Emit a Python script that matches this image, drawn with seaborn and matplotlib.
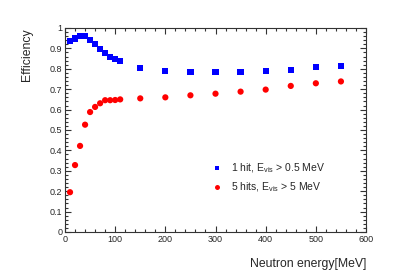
import pandas as pd
import numpy as np
import matplotlib
matplotlib.use('Agg')
import matplotlib.pyplot as plt
import seaborn as sns
from matplotlib.ticker import MultipleLocator

# data

energy = [10, 20, 30, 40, 50, 60, 70, 80, 90, 100, 110,
          150, 200, 250, 300, 350, 400, 450, 500, 550]
eff_1hit = [0.935, 0.948, 0.961, 0.959, 0.941, 0.920, 0.897, 0.876, 0.858, 0.847, 0.837,
            0.805, 0.791, 0.786, 0.784, 0.784, 0.791, 0.794, 0.810, 0.814]
eff_5hits = [0.195, 0.328, 0.422, 0.526, 0.588, 0.613, 0.631, 0.646, 0.646, 0.647, 0.650,
             0.655, 0.660, 0.670, 0.678, 0.688, 0.698, 0.716, 0.729, 0.738]
labels = ['1 hit, E$_{\\mathrm{vis}}$ > 0.5 MeV', '5 hits, E$_{\\mathrm{vis}}$ > 5 MeV']

df = pd.DataFrame({
    'energy': energy * 2,
    'eff': eff_1hit + eff_5hits,
    'sel': [labels[0]] * len(energy) + [labels[1]] * len(energy),
})

sns.set_style('ticks')
plt.rcParams['font.family'] = ['Liberation Sans', 'DejaVu Sans']
plt.rcParams['mathtext.fontset'] = 'custom'
plt.rcParams['mathtext.rm'] = 'Liberation Sans'

fig = plt.figure(figsize=(4.07, 2.78), dpi=100)
ax = fig.add_axes([0.1597, 0.1655, 0.7396, 0.7338])

sns.scatterplot(data=df, x='energy', y='eff', hue='sel', style='sel',
                palette={labels[0]: '#0000ff', labels[1]: '#ff0000'},
                markers={labels[0]: 's', labels[1]: 'o'},
                s=20, linewidth=0, ax=ax)

ax.set_xlim(0, 600)
ax.set_ylim(0, 1)
ax.xaxis.set_major_locator(MultipleLocator(100))
ax.xaxis.set_minor_locator(MultipleLocator(20))
ax.yaxis.set_major_locator(MultipleLocator(0.1))
ax.yaxis.set_minor_locator(MultipleLocator(0.02))
ax.yaxis.set_major_formatter(matplotlib.ticker.FuncFormatter(lambda v, p: f'{v:g}'))
ax.tick_params(which='both', direction='in', top=True, right=True,
               labelsize=6.5, color='#333333', width=0.8, pad=2)
ax.tick_params(which='major', length=4.5)
ax.tick_params(which='minor', length=2.2)
for s in ax.spines.values():
    s.set_color('#333333')
    s.set_linewidth(0.8)

ax.set_xlabel('Neutron energy[MeV]', fontsize=8.8, loc='right', labelpad=10)
ax.set_ylabel('Efficiency', fontsize=8.8, loc='top', labelpad=12)

leg = ax.legend(loc='upper left', bbox_to_anchor=(0.457, 0.39), frameon=False,
                fontsize=7.5, handletextpad=0.8, labelspacing=0.5,
                handlelength=1.0, markerscale=0.8)

fig.savefig('out.png', dpi=100)
